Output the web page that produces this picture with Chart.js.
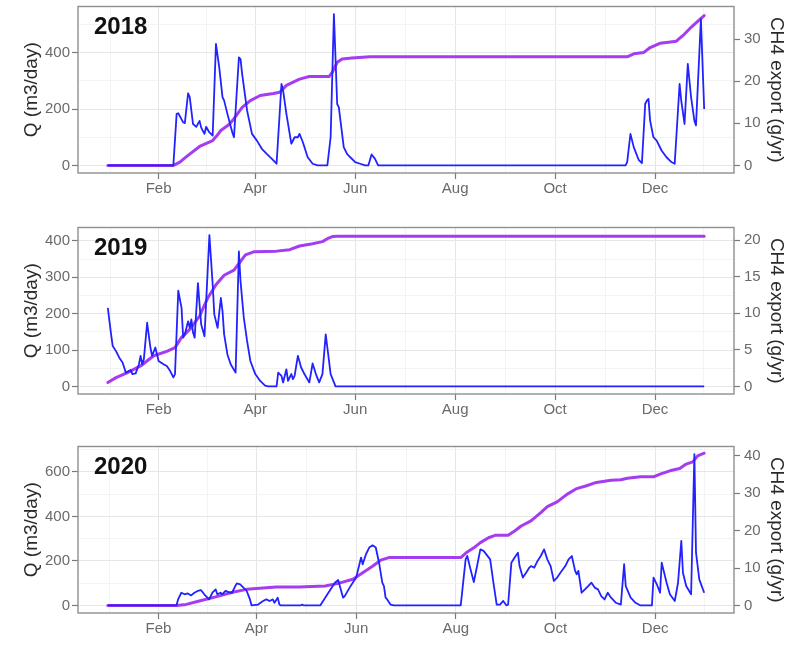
<!DOCTYPE html>
<html><head><meta charset="utf-8">
<script src="https://cdn.jsdelivr.net/npm/chart.js@4.4.1/dist/chart.umd.min.js"></script>
<style>
html,body{margin:0;padding:0;background:#fff;}
#wrap{position:relative;width:788px;height:656px;background:#fff;}
canvas{position:absolute;left:0;}
</style></head><body>
<div id="wrap">
<canvas id="c2018" width="788" height="200" style="top:0px"></canvas>
<canvas id="c2019" width="788" height="200" style="top:221px"></canvas>
<canvas id="c2020" width="788" height="200" style="top:440px"></canvas>
</div>
<script>
// ---- tick labels / positions (day of year, 0 = Jan 1) ----
const monthLabels = ['Feb','Apr','Jun','Aug','Oct','Dec'];
const monthTicksStd = [31,90,151,212,273,334];
const monthTicksLeap = [31,91,152,213,274,335];
const minorTicksStd = [1.5,60.5,120.5,181.5,242.5,303.5,363.5];
const minorTicksLeap = [1,61,121.5,182.5,243.5,304.5,365];

const qTicks2018 = [0,200,400];       const qMinor2018 = [100,300,500];   const ch4Ticks2018 = [0,10,20,30];
const qTicks2019 = [0,100,200,300,400]; const qMinor2019 = [50,150,250,350]; const ch4Ticks2019 = [0,5,10,15,20];
const qTicks2020 = [0,200,400,600];   const qMinor2020 = [100,300,500,700]; const ch4Ticks2020 = [0,10,20,30,40];

// secondary-axis scale factor (Q units per g/yr)
const secRatio2018 = 14.94;
const secRatio2019 = 20.1;
const secRatio2020 = 16.8;

// ---- 2018 ----
const qDay2018 = [0,40,42,43,46,47,49,50,52,54,56,57,59,60,62,64,66,68,70,71,73,76,77,80,81,82,85,88,91,94,97,100,103,106,107,109,112,114,116,117,119,122,125,128,134,136,138,140,141,144,146,148,151,154,157,159,161,163,165,316,317,319,321,324,326,328,329,330,331,333,335,338,341,344,346,349,350,352,354,356,358,359,362,364];
const q2018 =    [0,0,183,185,153,150,256,242,147,137,158,134,112,137,117,106,431,348,242,230,183,117,100,383,377,324,195,112,88,59,41,24,6,289,265,183,77,100,100,112,83,29,6,0,0,100,537,218,206,65,41,29,12,6,0,0,39,24,0,0,12,112,65,20,8,218,230,236,159,100,88,53,29,12,6,289,230,147,360,242,159,142,519,200];
const ch4Day2018 = [0,40,44,48,56,64,66,69,74,77,82,87,93,101,105,109,117,123,135,137,140,143,149,160,317,321,327,331,337,341,347,352,356,360,364];
const ch4_2018 =   [0,0,0.8,2.1,4.5,5.9,6.8,8.3,9.7,11.1,13.8,15.4,16.6,17.1,17.4,19,20.5,21.1,21.1,22.1,24.5,25.3,25.5,25.8,25.8,26.5,26.8,28,29,29.2,29.5,31.2,32.8,34.2,35.6];

// ---- 2019 ----
const qDay2019 = [0,2,3,5,7,9,10,11,14,15,17,19,20,21,22,24,26,27,29,31,34,36,38,40,41,43,45,46,47,49,50,51,52,53,55,56,57,59,62,64,65,67,69,70,71,73,75,78,80,81,83,85,87,90,93,96,98,103,104,106,107,109,110,112,113,114,116,118,120,123,125,127,129,131,133,134,136,139,364];
const q2019 =    [216,143,111,97,79,66,52,38,45,34,36,61,84,61,75,175,107,84,107,70,61,56,43,25,34,263,216,134,143,179,161,184,148,134,284,225,170,138,416,280,198,161,243,207,143,88,61,38,371,289,189,125,70,34,15,2,0,0,38,29,11,47,15,34,20,29,84,52,34,11,63,34,11,34,143,107,34,0,0];
const ch4Day2019 = [0,5,12,20,28,36,41,45,50,56,61,66,71,77,80,84,89,97,103,111,117,125,131,134,137,140,364];
const ch4_2019 =   [0.54,1.2,1.9,2.8,4.2,4.8,5.3,6.7,7.8,9.6,12.1,13.9,15.2,15.9,16.8,18,18.4,18.45,18.5,18.7,19.2,19.5,19.8,20.2,20.5,20.55,20.55];

// ---- 2020 ----
const qDay2020 = [0,42,43,45,47,49,51,53,55,57,59,62,64,66,67,69,70,72,74,76,78,79,81,83,85,87,88,92,95,97,99,101,102,104,105,106,118,119,120,130,135,139,141,142,144,145,148,152,155,156,158,160,162,164,166,168,169,170,171,173,175,216,219,220,222,224,226,228,230,234,236,238,240,242,244,245,247,249,251,252,254,256,258,259,261,263,265,267,269,271,273,275,277,280,282,284,286,287,288,290,292,294,296,298,300,302,304,306,308,311,314,316,317,320,323,326,333,334,336,338,339,340,342,344,347,349,351,352,354,357,359,360,362,365];
const q2020 =    [0,0,27,57,50,54,45,57,65,69,50,27,57,72,50,57,50,65,60,57,87,99,95,80,65,27,0,4,20,27,20,27,12,35,4,0,0,4,0,0,57,102,114,87,35,42,80,125,215,185,230,260,270,260,192,102,87,35,27,4,0,0,207,222,162,105,177,252,245,207,102,4,4,20,0,4,192,215,237,177,125,147,170,177,170,200,222,252,207,177,110,125,147,177,207,222,155,140,155,57,72,87,102,80,72,42,27,57,35,12,4,185,87,35,12,0,0,125,95,57,192,162,102,50,20,102,290,147,87,50,680,237,117,57];
const ch4Day2020 = [0,42,48,56,66,77,85,91,103,117,133,141,150,156,162,167,172,216,220,224,228,233,237,245,249,253,259,265,269,275,281,287,293,299,308,314,318,326,334,338,344,350,354,358,361,365];
const ch4_2020 =   [0,0,0.27,1.2,2.3,3.6,4.3,4.5,4.9,4.9,5.2,5.9,7.0,8.75,10.5,12.1,12.8,12.8,14.3,15.4,16.8,18.1,18.75,18.75,19.9,21.25,22.6,24.8,26.4,27.7,29.7,31.25,32,32.9,33.5,33.6,34,34.4,34.4,35.1,36,36.6,37.8,38.4,40,40.7];

const FONT = '"Liberation Sans", Arial, Helvetica, sans-serif';
const TICK_COL = '#6a6a6a';
const TICKMARK_COL = '#7a7a7a';

const panelDeco = {
  id: 'panelDeco',
  afterDatasetsDraw(chart, args, opts) {
    const {ctx, chartArea: a} = chart;
    ctx.save();
    ctx.strokeStyle = '#8f8f8f';
    ctx.lineWidth = 1.4;
    ctx.strokeRect(a.left, a.top, a.right - a.left, a.bottom - a.top);
    ctx.fillStyle = '#111';
    ctx.font = 'bold 24px ' + FONT;
    ctx.textBaseline = 'alphabetic';
    ctx.textAlign = 'left';
    ctx.fillText(opts.label, a.left + 16, a.top + 27);
    ctx.restore();
  }
};

function noPad(s) { s.paddingTop = 0; s.paddingBottom = 0; s.paddingLeft = 0; s.paddingRight = 0; }

function makePanel(id, label, nDays, qDay, qVal, cDay, cVal, monthTicks, minorTicks, qTicks, qMinor, cTicks, secRatio) {
  const qMax = Math.max(...qVal);
  const yMin = -0.05 * qMax, yMax = 1.05 * qMax;
  const span = nDays - 1;
  const majorX = new Set(monthTicks), majorY = new Set(qTicks);
  new Chart(document.getElementById(id), {
    type: 'line',
    data: {
      datasets: [
        { data: qDay.map((d, i) => ({x: d, y: qVal[i]})), yAxisID: 'y',
          borderColor: '#2222ff', borderWidth: 1.8, pointRadius: 0, tension: 0,
          borderJoinStyle: 'round', fill: false },
        { data: cDay.map((d, i) => ({x: d, y: cVal[i]})), yAxisID: 'y1',
          borderColor: '#a53cf0', borderWidth: 3, pointRadius: 0, tension: 0,
          borderJoinStyle: 'round', borderCapStyle: 'round', fill: false }
      ]
    },
    options: {
      responsive: false, animation: false, devicePixelRatio: 1,
      layout: { padding: { top: 6.5, left: 0, right: 0, bottom: 0 } },
      plugins: { legend: { display: false }, tooltip: { enabled: false }, panelDeco: { label } },
      scales: {
        x: {
          type: 'linear', min: -0.05 * span, max: span * 1.05,
          afterBuildTicks: s => { s.ticks = monthTicks.concat(minorTicks).map(v => ({value: v})); },
          ticks: { autoSkip: false, maxRotation: 0, padding: 1, color: TICK_COL,
                   font: { family: FONT, size: 15 },
                   callback: v => { const i = monthTicks.indexOf(v); return i >= 0 ? monthLabels[i] : ''; } },
          grid: { color: c => majorX.has(c.tick && c.tick.value) ? '#e6e6e6' : '#f3f3f3',
                  lineWidth: 1, tickLength: 6, tickWidth: 1.2,
                  tickColor: c => majorX.has(c.tick && c.tick.value) ? TICKMARK_COL : 'rgba(0,0,0,0)' },
          border: { display: false },
          afterFit: s => { s.height = 27; noPad(s); }
        },
        y: {
          position: 'left', min: yMin, max: yMax,
          afterBuildTicks: s => { s.ticks = qTicks.concat(qMinor).map(v => ({value: v})); },
          ticks: { autoSkip: false, padding: 2, color: TICK_COL, font: { family: FONT, size: 15 },
                   callback: v => majorY.has(v) ? String(v) : '' },
          grid: { color: c => majorY.has(c.tick && c.tick.value) ? '#e6e6e6' : '#f3f3f3',
                  lineWidth: 1, tickLength: 6, tickWidth: 1.2,
                  tickColor: c => majorY.has(c.tick && c.tick.value) ? TICKMARK_COL : 'rgba(0,0,0,0)' },
          border: { display: false },
          title: { display: true, text: 'Q (m3/day)', color: '#2a2a2a',
                   font: { family: FONT, size: 19 }, padding: { top: 20, bottom: 0 } },
          afterFit: s => { s.width = 78; noPad(s); }
        },
        y1: {
          position: 'right', min: yMin / secRatio, max: yMax / secRatio,
          afterBuildTicks: s => { s.ticks = cTicks.map(v => ({value: v})); },
          ticks: { autoSkip: false, padding: 4, color: TICK_COL, font: { family: FONT, size: 15 } },
          grid: { drawOnChartArea: false, tickLength: 6, tickWidth: 1.2, tickColor: TICKMARK_COL },
          border: { display: false },
          title: { display: true, text: 'CH4 export (g/yr)', color: '#2a2a2a',
                   font: { family: FONT, size: 19 }, padding: { top: 0, bottom: 0 } },
          afterFit: s => { s.width = 54; noPad(s); }
        }
      }
    },
    plugins: [panelDeco]
  });
}

makePanel('c2018', '2018', 365, qDay2018, q2018, ch4Day2018, ch4_2018, monthTicksStd, minorTicksStd, qTicks2018, qMinor2018, ch4Ticks2018, secRatio2018);
makePanel('c2019', '2019', 365, qDay2019, q2019, ch4Day2019, ch4_2019, monthTicksStd, minorTicksStd, qTicks2019, qMinor2019, ch4Ticks2019, secRatio2019);
makePanel('c2020', '2020', 366, qDay2020, q2020, ch4Day2020, ch4_2020, monthTicksLeap, minorTicksLeap, qTicks2020, qMinor2020, ch4Ticks2020, secRatio2020);
</script>
</body></html>
